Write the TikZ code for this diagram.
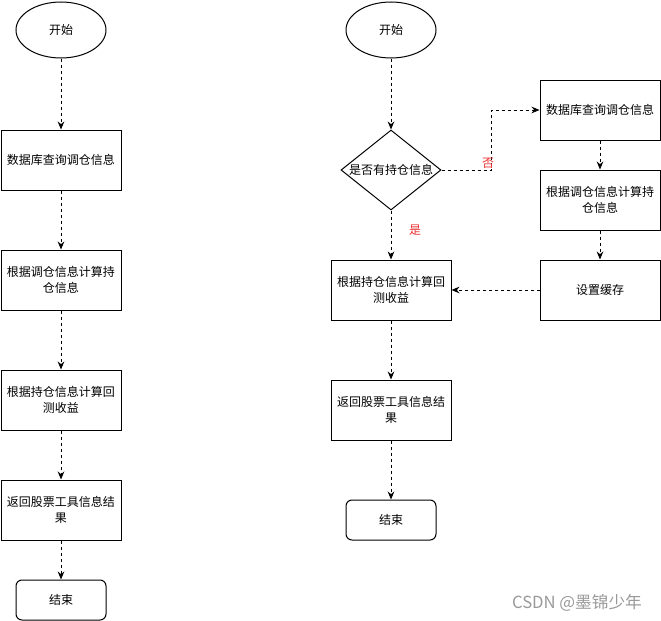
\documentclass[tikz,border=0pt]{standalone}
\usepackage{fontspec}
\setmainfont{Noto Sans CJK SC}
\usetikzlibrary{shapes.geometric,arrows.meta}

\begin{document}
\begin{tikzpicture}[x=0.75pt,y=-0.75pt,
    every node/.style={font=\fontsize{9}{12}\selectfont},
    procbox/.style={draw,line width=0.75pt,minimum width=90pt,minimum height=45pt,inner sep=0pt,align=center},
    startnode/.style={draw,ellipse,line width=0.75pt,minimum width=67.5pt,minimum height=42pt,inner sep=0pt},
    endbox/.style={draw,rounded corners=4.5pt,line width=0.75pt,minimum width=67.5pt,minimum height=30pt,inner sep=0pt},
    decide/.style={draw,diamond,line width=0.75pt,minimum width=75pt,minimum height=60pt,inner sep=0pt},
    flow/.style={line width=0.75pt,dash pattern=on 2.25pt off 2.25pt,-{Stealth[length=6pt,width=5pt]}},
    answer/.style={text={rgb,255:red,235;green,50;blue,50}}
  ]
  \useasboundingbox (0,0) rectangle (661,621);

  % left flow
  \node[startnode] (ls) at (61,30) {开始};
  \node[procbox] (l1) at (61,160) {数据库查询调仓信息};
  \node[procbox] (l2) at (61,280) {根据调仓信息计算持\\仓信息};
  \node[procbox] (l3) at (61,400) {根据持仓信息计算回\\测收益};
  \node[procbox] (l4) at (61,510) {返回股票工具信息结\\果};
  \node[endbox] (le) at (61,600) {结束};

  \draw[flow] (ls) -- (l1);
  \draw[flow] (l1) -- (l2);
  \draw[flow] (l2) -- (l3);
  \draw[flow] (l3) -- (l4);
  \draw[flow] (l4) -- (le);

  % right flow with cache
  \node[startnode] (rs) at (391,30) {开始};
  \node[decide,label={center:是否有持仓信息}] (rq) at (391,170) {};
  \node[procbox] (r1) at (391,290) {根据持仓信息计算回\\测收益};
  \node[procbox] (r2) at (391,410) {返回股票工具信息结\\果};
  \node[endbox] (re) at (391,520) {结束};

  \node[procbox] (c1) at (600,110) {数据库查询调仓信息};
  \node[procbox] (c2) at (600,200) {根据调仓信息计算持\\仓信息};
  \node[procbox] (c3) at (600,290) {设置缓存};

  \coordinate (bend) at (491,170);

  \draw[flow] (rs) -- (rq);
  \draw[flow] (rq) -- (r1);
  \draw[flow] (r1) -- (r2);
  \draw[flow] (r2) -- (re);
  \draw[flow] (rq.east) -- (bend) |- (c1.west);
  \draw[flow] (c1) -- (c2);
  \draw[flow] (c2) -- (c3);
  \draw[flow] (c3) -- (r1);

  \node[answer] (no) at (488,163) {否};
  \node[answer] (yes) at (415,230) {是};

  \node[text=black!40,font=\fontsize{12.5}{14}\selectfont] (mark) at (577,603) {CSDN @墨锦少年};
\end{tikzpicture}
\end{document}
